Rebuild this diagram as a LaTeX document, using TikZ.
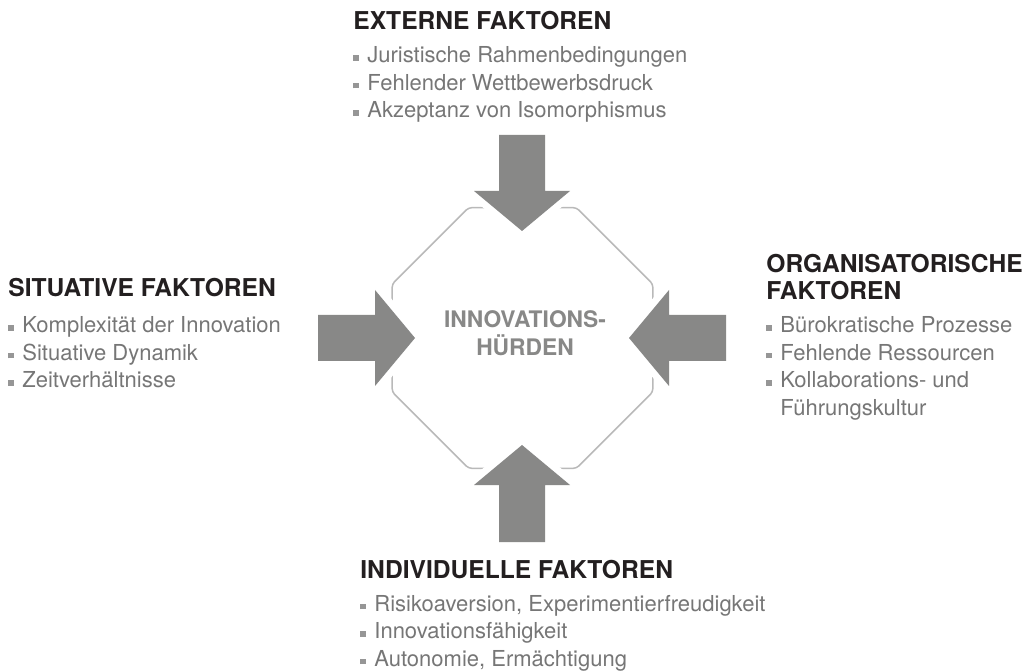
\documentclass[tikz,border=0pt]{standalone}
\usepackage{fontspec}
\setmainfont{TeX Gyre Heros}
\usetikzlibrary{shapes.geometric,positioning}
\definecolor{titlecol}{RGB}{35,31,32}
\definecolor{itemcol}{RGB}{118,118,118}
\definecolor{bulcol}{RGB}{150,150,150}
\definecolor{arrowcol}{RGB}{136,136,135}
\definecolor{linecol}{RGB}{185,185,185}
\newcommand{\bul}{\makebox[7pt][l]{\raisebox{1pt}{\textcolor{bulcol}{\rule{2.75pt}{2.75pt}}}}}

\begin{document}
\begin{tikzpicture}[x=0.5pt,y=-0.5pt,
	title_node/.style={anchor=base west,inner sep=0pt,text=titlecol,font=\fontsize{12.3}{14}\selectfont\bfseries},
	item_node/.style={anchor=base west,inner sep=0pt,text=itemcol,font=\fontsize{11}{13}\selectfont},
	block_arrow/.style={fill=arrowcol,preaction={draw=white,line width=7pt,line join=round}}]

		\useasboundingbox (0,0) rectangle (1031,672);

		% centre
		\node[regular polygon,regular polygon sides=8,minimum size=141pt,inner sep=0pt,draw=linecol,line width=0.75pt,rounded corners=1.5pt] (hub) at (522.5,338) {};
		\node[align=center,text=arrowcol,font=\fontsize{11.4}{14}\selectfont\bfseries] (hub_text) at (525,333) {INNOVATIONS-\\HÜRDEN};

		% arrows
		\fill[block_arrow] (499,135) -- (545,135) -- (545,191) -- (570,191) -- (522,231) -- (474,191) -- (499,191) -- cycle;
		\fill[block_arrow] (499,542) -- (545,542) -- (545,485) -- (570,485) -- (522,445) -- (474,485) -- (499,485) -- cycle;
		\fill[block_arrow] (318,315) -- (318,361) -- (375,361) -- (375,386) -- (415,338) -- (375,290) -- (375,315) -- cycle;
		\fill[block_arrow] (726,315) -- (726,361) -- (669,361) -- (669,386) -- (629,338) -- (669,290) -- (669,315) -- cycle;

		% externe
		\node[title_node] (ext_title) at (353,30) {EXTERNE FAKTOREN};
		\foreach \t [count=\i] in {Juristische Rahmenbedingungen,Fehlender Wettbewerbsdruck,Akzeptanz von Isomorphismus}
			\node[item_node] (ext_\i) at (353,{63+27.5*(\i-1)}) {\bul\t};

		% situative
		\node[title_node] (sit_title) at (8,297) {SITUATIVE FAKTOREN};
		\foreach \t [count=\i] in {Komplexität der Innovation,Situative Dynamik,Zeitverhältnisse}
			\node[item_node] (sit_\i) at (8,{333+27.5*(\i-1)}) {\bul\t};

		% organisatorische
		\node[title_node] (org_title) at (766,273) {ORGANISATORISCHE};
		\node[title_node] (org_title2) at (766,300) {FAKTOREN};
		\foreach \t [count=\i] in {Bürokratische Prozesse,Fehlende Ressourcen,Kollaborations- und}
			\node[item_node] (org_\i) at (766,{333+27.5*(\i-1)}) {\bul\t};
		\node[item_node] (org_4) at (780,415.5) {Führungskultur};

		% individuelle
		\node[title_node] (ind_title) at (360,578) {INDIVIDUELLE FAKTOREN};
		\foreach \t [count=\i] in {{Risikoaversion, Experimentierfreudigkeit},Innovationsfähigkeit,{Autonomie, Ermächtigung}}
			\node[item_node] (ind_\i) at (360,{611+27.5*(\i-1)}) {\bul\t};
\end{tikzpicture}
\end{document}
